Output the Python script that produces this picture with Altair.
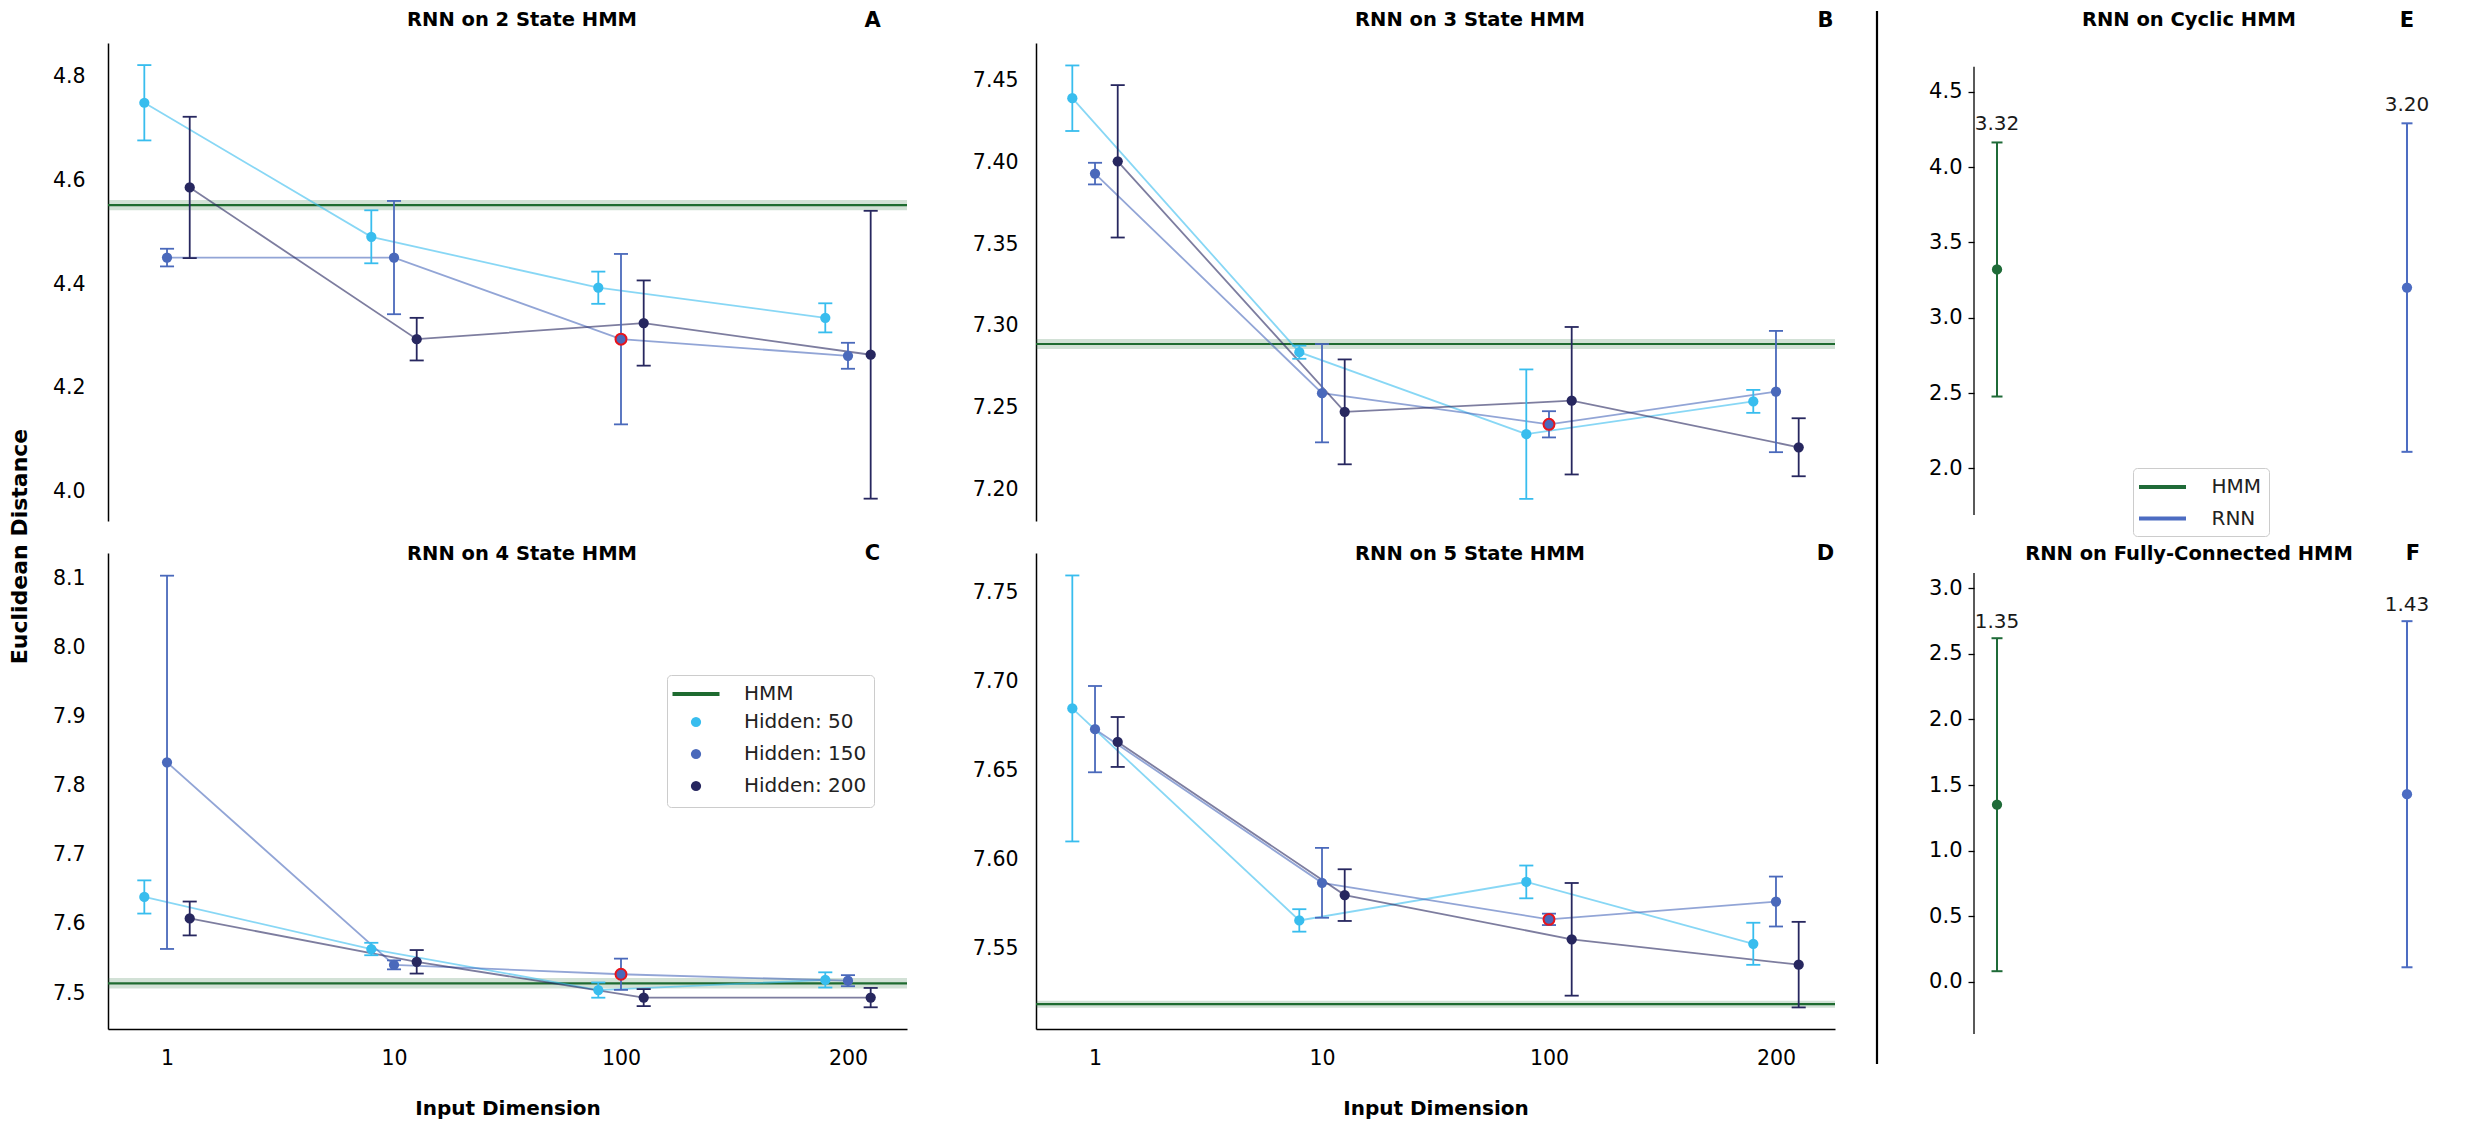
import altair as alt
import pandas as pd

FONT = "DejaVu Sans"

# ---------------- data ----------------
INPUT_DIMS = ["1", "10", "100", "200"]
HIDDEN = ["Hidden: 50", "Hidden: 150", "Hidden: 200"]
HIDDEN_COLORS = ["#38BDEE", "#4A69BB", "#27275F"]
DODGE = [-0.1, 0.0, 0.1]
BEST_DIM = "100"
BEST_HIDDEN = "Hidden: 150"
HMM_COLOR = "#1E6B30"

# Panel A: RNN on 2 State HMM
A_MEAN_50 = [4.749, 4.491, 4.393, 4.335]
A_ERR_50 = [0.0725, 0.051, 0.031, 0.028]
A_MEAN_150 = [4.451, 4.451, 4.294, 4.262]
A_ERR_150 = [0.017, 0.109, 0.164, 0.025]
A_MEAN_200 = [4.586, 4.294, 4.325, 4.264]
A_ERR_200 = [0.136, 0.041, 0.082, 0.277]
A_HMM = [4.552, 0.010]

# Panel B: RNN on 3 State HMM
B_MEAN_50 = [7.439, 7.284, 7.234, 7.254]
B_ERR_50 = [0.020, 0.004, 0.0395, 0.007]
B_MEAN_150 = [7.393, 7.259, 7.240, 7.260]
B_ERR_150 = [0.0066, 0.030, 0.008, 0.037]
B_MEAN_200 = [7.4005, 7.2476, 7.2544, 7.226]
B_ERR_200 = [0.0465, 0.032, 0.045, 0.0177]
B_HMM = [7.289, 0.003]

# Panel C: RNN on 4 State HMM
C_MEAN_50 = [7.639, 7.5637, 7.5043, 7.519]
C_ERR_50 = [0.024, 0.009, 0.011, 0.011]
C_MEAN_150 = [7.8338, 7.5408, 7.5272, 7.5179]
C_ERR_150 = [0.27, 0.0065, 0.0226, 0.008]
C_MEAN_200 = [7.6079, 7.5452, 7.4934, 7.4934]
C_ERR_200 = [0.0245, 0.017, 0.0123, 0.014]
C_HMM = [7.5141, 0.0076]

# Panel D: RNN on 5 State HMM
D_MEAN_50 = [7.6848, 7.5659, 7.5875, 7.5528]
D_ERR_50 = [0.0746, 0.0063, 0.0092, 0.0118]
D_MEAN_150 = [7.6732, 7.587, 7.5665, 7.5765]
D_ERR_150 = [0.0242, 0.0196, 0.0032, 0.014]
D_MEAN_200 = [7.666, 7.5801, 7.5553, 7.5411]
D_ERR_200 = [0.014, 0.0145, 0.0316, 0.024]
D_HMM = [7.5189, 0.002]

# Panels E / F
MODELS = ["HMM", "RNN"]
MODEL_COLORS = ["#1F6B38", "#4C6CC2"]
E_MEAN = [3.32, 3.20]
E_ERR = [0.843, 1.09]
F_MEAN = [1.35, 1.43]
F_ERR = [1.27, 1.32]

# axis limits (as in the original figure)
A_YLIM = [3.944, 4.864]
B_YLIM = [7.181, 7.4727]
C_YLIM = [7.448, 8.1366]
D_YLIM = [7.505, 7.772]
E_YLIM = [1.651, 4.823]
E_SPINE = [1.691, 4.666]
F_YLIM = [-0.399, 3.270]
F_SPINE = [-0.399, 3.117]

A_TICKS = [4.0, 4.2, 4.4, 4.6, 4.8]
B_TICKS = [7.20, 7.25, 7.30, 7.35, 7.40, 7.45]
C_TICKS = [7.5, 7.6, 7.7, 7.8, 7.9, 8.0, 8.1]
D_TICKS = [7.55, 7.60, 7.65, 7.70, 7.75]
E_TICKS = [2.0, 2.5, 3.0, 3.5, 4.0, 4.5]
F_TICKS = [0.0, 0.5, 1.0, 1.5, 2.0, 2.5, 3.0]

# ---------------- layout ----------------
XDOM = [-0.26, 3.26]
W_RNN = 799
H_TOP = 478
H_BOT = 476
SUM_XDOM = [-0.0805, 1.0488]
SUM_SPINE_X = -0.0561
W_SUM = 463
H_E = 478
H_F = 481
CAP_RNN = 0.031
CAP_SUM = 0.0134
LABEL_GAP = 0.12
POINT_SIZE = 105
LINE_SYMBOL = "M-2.35,0H2.35"
TOP_TITLE_Y = -22.7
TOP_LETTER_Y = -22.5


def rnn_frame(means, errs):
    rows = []
    for s_i, label in enumerate(HIDDEN):
        for d_i, dim in enumerate(INPUT_DIMS):
            m = means[s_i][d_i]
            e = errs[s_i][d_i]
            rows.append(dict(dim=dim, series=label, x=d_i + DODGE[s_i],
                             mean=m, lo=m - e, hi=m + e))
    return pd.DataFrame(rows)


def segment_frame(df, cap):
    rows = []
    for r in df.itertuples():
        rows.append(dict(series=r.series, x1=r.x, x2=r.x, y1=r.lo, y2=r.hi))
        rows.append(dict(series=r.series, x1=r.x - cap, x2=r.x + cap, y1=r.hi, y2=r.hi))
        rows.append(dict(series=r.series, x1=r.x - cap, x2=r.x + cap, y1=r.lo, y2=r.lo))
    return pd.DataFrame(rows)


def text_layer(text, xy, size):
    return alt.Chart(pd.DataFrame({"t": [text]})).mark_text(
        font=FONT, fontSize=size, fontWeight="bold", color="black",
        align="center", baseline="middle"
    ).encode(text="t:N", x=alt.value(xy[0]), y=alt.value(xy[1]))


def legend_style(xy, row_pad):
    return dict(title=None, orient="none", legendX=xy[0], legendY=xy[1],
                direction="vertical", labelFont=FONT, labelFontSize=20,
                labelColor="#222222", labelOffset=36, symbolOffset=10,
                rowPadding=row_pad, padding=7, strokeColor="#CCCCCC",
                fillColor="white", cornerRadius=4, symbolStrokeWidth=4)


def rnn_panel(means, errs, hmm, ylim, yticks, yfmt, height, label_pad, title, title_xy,
              letter, letter_xy, bottom_axis=False, ytitle=False, legend_xy=None):
    df = rnn_frame(means, errs)
    seg = segment_frame(df, CAP_RNN)
    best = df[(df["dim"] == BEST_DIM) & (df["series"] == BEST_HIDDEN)]
    hmm_df = pd.DataFrame({"x0": [XDOM[0]], "x1": [XDOM[1]], "hmm": [hmm[0]],
                           "lo": [hmm[0] - hmm[1]], "hi": [hmm[0] + hmm[1]]})
    xscale = alt.Scale(domain=XDOM, nice=False, zero=False)
    yscale = alt.Scale(domain=ylim, nice=False, zero=False)

    if bottom_axis:
        xaxis = alt.Axis(values=list(range(len(INPUT_DIMS))),
                         labelExpr=f"{INPUT_DIMS!r}[datum.value]",
                         title="Input Dimension", titleFont=FONT, titleFontSize=20,
                         titleFontWeight="bold", titleColor="black", titleY=79,
                         titleBaseline="middle",
                         labelFont=FONT, labelFontSize=20.5, labelColor="black",
                         labelPadding=19, ticks=False, domainColor="black",
                         domainWidth=1.5, grid=False)
    else:
        xaxis = None
    ykw = dict(values=yticks, format=yfmt, labelFont=FONT, labelFontSize=20.5,
               labelColor="black", labelPadding=label_pad, ticks=False,
               domainColor="black", domainWidth=1.5, grid=False)
    if ytitle:
        ykw.update(title="Euclidean Distance", titleFont=FONT, titleFontSize=22,
                   titleFontWeight="bold", titleColor="black", titleAngle=270,
                   titleX=-89, titleY=503, titleBaseline="middle", titleAlign="center")
    else:
        ykw.update(title=None)
    yaxis = alt.Axis(**ykw)

    def X(f):
        return alt.X(f, scale=xscale, axis=xaxis)

    def Y(f):
        return alt.Y(f, scale=yscale, axis=yaxis)

    color = alt.Color("series:N", scale=alt.Scale(domain=HIDDEN, range=HIDDEN_COLORS),
                      legend=None)

    band = alt.Chart(hmm_df).mark_rect(color=HMM_COLOR, opacity=0.2).encode(
        x=X("x0:Q"), x2="x1:Q", y=Y("lo:Q"), y2="hi:Q")
    hmm_line = alt.Chart(hmm_df).mark_rule(color=HMM_COLOR, strokeWidth=2.2).encode(
        x=X("x0:Q"), x2="x1:Q", y=Y("hmm:Q"))
    lines = alt.Chart(df).mark_line(strokeWidth=1.8, opacity=0.6).encode(
        x=X("x:Q"), y=Y("mean:Q"), color=color)
    bars = alt.Chart(seg).mark_rule(strokeWidth=1.8).encode(
        x=X("x1:Q"), x2="x2:Q", y=Y("y1:Q"), y2="y2:Q", color=color)

    if legend_xy is not None:
        leg_domain = ["HMM"] + HIDDEN
        leg = alt.Legend(**legend_style(legend_xy, 4))
        enc = dict(
            fill=alt.Fill("series:N", scale=alt.Scale(domain=leg_domain, range=["transparent"] + HIDDEN_COLORS), legend=leg),
            stroke=alt.Stroke("series:N", scale=alt.Scale(domain=leg_domain, range=[HMM_COLOR, "transparent", "transparent", "transparent"]), legend=leg),
            shape=alt.Shape("series:N", scale=alt.Scale(domain=leg_domain, range=[LINE_SYMBOL, "circle", "circle", "circle"]), legend=leg),
            size=alt.Size("series:N", scale=alt.Scale(type="ordinal", domain=leg_domain, range=[400, POINT_SIZE, POINT_SIZE, POINT_SIZE]), legend=leg),
        )
    else:
        enc = dict(fill=alt.Fill("series:N", scale=alt.Scale(domain=HIDDEN, range=HIDDEN_COLORS), legend=None))
    points = alt.Chart(df).mark_point(filled=True, size=POINT_SIZE, opacity=1).encode(
        x=X("x:Q"), y=Y("mean:Q"), **enc)
    best_pt = alt.Chart(best).mark_point(filled=True, fill=HIDDEN_COLORS[1], stroke="#E8141C",
                                         strokeWidth=2, size=POINT_SIZE + 15, opacity=1).encode(
        x=X("x:Q"), y=Y("mean:Q"))

    return alt.layer(band, hmm_line, lines, bars, points, best_pt,
                     text_layer(title, title_xy, 19.5),
                     text_layer(letter, letter_xy, 21)).properties(width=W_RNN, height=height)


def summary_panel(means, errs, ylim, spine, yticks, height, title, title_xy, letter, letter_xy,
                  legend_xy=None, separator=False):
    df = pd.DataFrame({"series": MODELS, "x": [0, 1], "mean": means, "err": errs})
    df["lo"] = df["mean"] - df["err"]
    df["hi"] = df["mean"] + df["err"]
    df["label_y"] = df["hi"] + LABEL_GAP
    seg = segment_frame(df, CAP_SUM)
    xscale = alt.Scale(domain=SUM_XDOM, nice=False, zero=False)
    yscale = alt.Scale(domain=ylim, nice=False, zero=False)
    yaxis = alt.Axis(values=yticks, format=".1f", labelFont=FONT, labelFontSize=21,
                     labelColor="black", labelPadding=6, ticks=True, tickSize=6,
                     tickWidth=1.3, tickColor="black", domain=False,
                     grid=False, title=None, offset=-10)

    def X(f):
        return alt.X(f, scale=xscale, axis=None)

    def Y(f):
        return alt.Y(f, scale=yscale, axis=yaxis)

    if legend_xy is not None:
        st = legend_style(legend_xy, 9.5)
        st.update(symbolType=LINE_SYMBOL, symbolSize=400, labelOffset=37, symbolOffset=10.5)
        leg = alt.Legend(**st)
    else:
        leg = None
    color = alt.Color("series:N", scale=alt.Scale(domain=MODELS, range=MODEL_COLORS), legend=leg)
    bars = alt.Chart(seg).mark_rule(strokeWidth=2).encode(
        x=X("x1:Q"), x2="x2:Q", y=Y("y1:Q"), y2="y2:Q", color=color)
    points = alt.Chart(df).mark_point(filled=True, size=POINT_SIZE, opacity=1).encode(
        x=X("x:Q"), y=Y("mean:Q"),
        fill=alt.Fill("series:N", scale=alt.Scale(domain=MODELS, range=MODEL_COLORS), legend=None))
    labels = alt.Chart(df).mark_text(font=FONT, fontSize=20, color="#1a1a1a",
                                     baseline="middle", align="center").encode(
        x=X("x:Q"), y=Y("label_y:Q"), text=alt.Text("mean:Q", format=".2f"))
    spine_df = pd.DataFrame({"x": [SUM_SPINE_X], "y0": [spine[0]], "y1": [spine[1]]})
    spine_rule = alt.Chart(spine_df).mark_rule(color="black", strokeWidth=1.3).encode(
        x=X("x:Q"), y=Y("y0:Q"), y2="y1:Q")
    layers = [bars, points, labels, spine_rule]
    if separator:
        layers.append(alt.Chart(pd.DataFrame({"a": [0]})).mark_rule(
            color="black", strokeWidth=2.2).encode(
            x=alt.value(-87), y=alt.value(-32), y2=alt.value(1021)))
    layers.append(text_layer(title, title_xy, 19.5))
    layers.append(text_layer(letter, letter_xy, 21))
    return alt.layer(*layers).properties(width=W_SUM, height=height)


panel_a = rnn_panel([A_MEAN_50, A_MEAN_150, A_MEAN_200], [A_ERR_50, A_ERR_150, A_ERR_200],
                    A_HMM, A_YLIM, A_TICKS, ".1f", H_TOP, 23, "RNN on 2 State HMM",
                    (414, TOP_TITLE_Y), "A", (764.5, TOP_LETTER_Y), ytitle=True)
panel_b = rnn_panel([B_MEAN_50, B_MEAN_150, B_MEAN_200], [B_ERR_50, B_ERR_150, B_ERR_200],
                    B_HMM, B_YLIM, B_TICKS, ".2f", H_TOP, 18, "RNN on 3 State HMM",
                    (434, TOP_TITLE_Y), "B", (789.5, TOP_LETTER_Y))
panel_c = rnn_panel([C_MEAN_50, C_MEAN_150, C_MEAN_200], [C_ERR_50, C_ERR_150, C_ERR_200],
                    C_HMM, C_YLIM, C_TICKS, ".1f", H_BOT, 23, "RNN on 4 State HMM", (414, 1.3),
                    "C", (764.5, 1.4), bottom_axis=True, legend_xy=(559, 122))
panel_d = rnn_panel([D_MEAN_50, D_MEAN_150, D_MEAN_200], [D_ERR_50, D_ERR_150, D_ERR_200],
                    D_HMM, D_YLIM, D_TICKS, ".2f", H_BOT, 18, "RNN on 5 State HMM", (434, 1.3),
                    "D", (789.5, 1.4), bottom_axis=True)
panel_e = summary_panel(E_MEAN, E_ERR, E_YLIM, E_SPINE, E_TICKS, H_E, "RNN on Cyclic HMM",
                        (225, TOP_TITLE_Y), "E", (443, TOP_LETTER_Y), legend_xy=(169, 425),
                        separator=True)
panel_f = summary_panel(F_MEAN, F_ERR, F_YLIM, F_SPINE, F_TICKS, H_F,
                        "RNN on Fully-Connected HMM", (225, 0.8), "F", (449, 0.9))

chart = alt.concat(
    panel_a, panel_b, panel_e, panel_c, panel_d, panel_f,
    columns=3, spacing={"row": 32, "column": 129}, align="none", bounds="flush"
).resolve_scale(
    x="independent", y="independent", color="independent", fill="independent",
    stroke="independent", shape="independent", size="independent"
).properties(
    padding={"left": 0, "top": 1, "right": 10, "bottom": 4},
    background="white"
).configure_view(stroke=None)

chart.save("out.html", embed_options={"renderer": "svg", "actions": False})
